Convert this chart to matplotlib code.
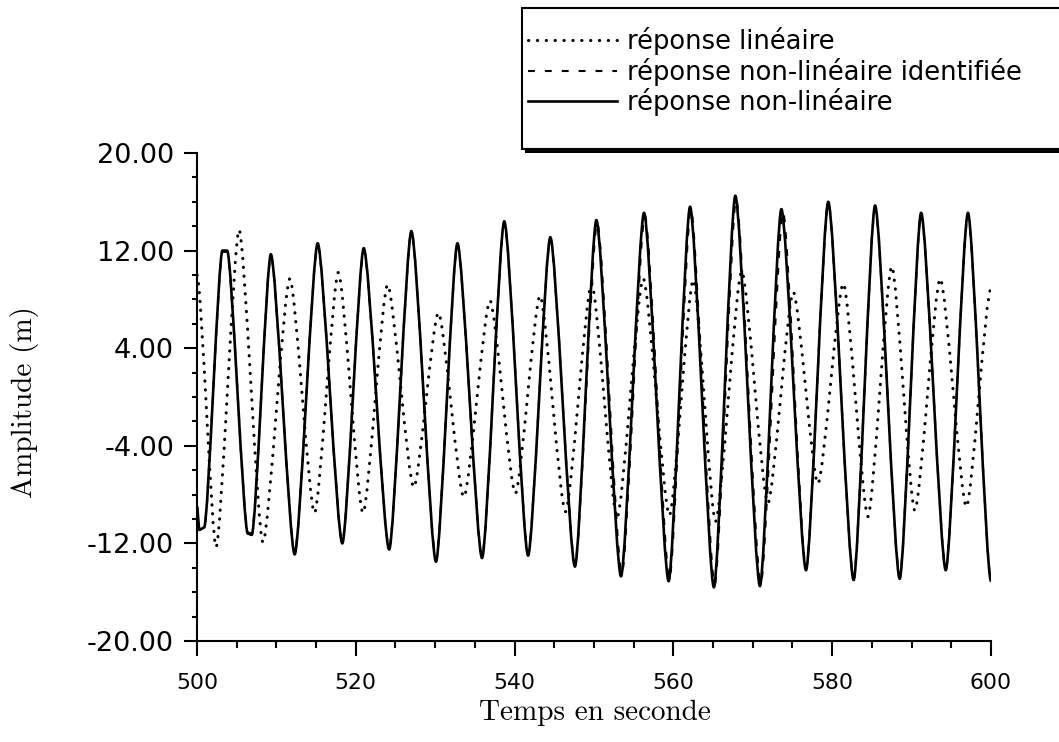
import matplotlib
matplotlib.use("Agg")
import matplotlib.pyplot as plt
from matplotlib.path import Path
from matplotlib.patches import PathPatch, Rectangle
from matplotlib.lines import Line2D
from matplotlib.ticker import MultipleLocator

# extrema (time in s, amplitude in m)
lin_t = [500.0, 502.4, 505.3, 508.3, 511.7, 514.8, 517.8, 520.9, 524.0, 527.3,
         530.4, 533.6, 536.9, 540.1, 543.2, 546.4, 549.7, 552.9, 556.2, 559.5,
         562.5, 565.3, 568.6, 571.9, 575.1, 578.2, 581.4, 584.5, 587.5, 590.4,
         593.6, 596.9, 600.0]
lin_v = [10.0, -12.3, 13.7, -11.9, 9.7, -9.5, 10.2, -9.5, 9.2, -7.4,
         6.9, -8.2, 7.9, -7.9, 8.3, -9.4, 9.3, -9.9, 9.7, -9.7,
         9.6, -10.2, 10.3, -8.7, 8.6, -7.1, 9.3, -9.8, 10.7, -9.3,
         9.7, -9.0, 8.9]

nl_t = [500.0, 500.3, 500.9, 503.2, 503.8, 506.4, 506.9, 509.3, 512.3, 515.2,
        518.3, 521.0, 524.2, 527.0, 530.1, 532.8, 535.9, 538.7, 541.7, 544.5,
        547.6, 550.3, 553.4, 556.3, 559.4, 562.1, 565.1, 567.8, 570.9, 573.6,
        576.7, 579.5, 582.7, 585.4, 588.5, 591.2, 594.3, 597.1, 600.0]
nl_v = [-9.0, -10.9, -10.7, 12.0, 12.0, -11.2, -11.3, 11.7, -12.9, 12.6,
        -12.0, 12.2, -12.5, 13.6, -13.5, 12.6, -13.2, 14.4, -13.0, 13.1,
        -13.9, 14.5, -14.7, 15.1, -15.1, 15.6, -15.6, 16.5, -15.5, 15.4,
        -14.2, 16.0, -15.0, 15.7, -14.9, 15.1, -14.2, 15.1, -15.1]

id_t = [500.0, 500.3, 500.9, 503.2, 503.8, 506.4, 506.9, 509.3, 512.3, 515.2,
        518.3, 521.0, 524.2, 527.0, 530.1, 532.8, 535.9, 538.7, 541.7, 544.5,
        547.6, 550.4, 553.5, 556.4, 559.5, 562.2, 565.2, 567.9, 571.0, 573.8,
        576.7, 579.5, 582.7, 585.4, 588.5, 591.2, 594.3, 597.1, 600.0]
id_v = [-8.9, -10.8, -10.7, 11.9, 11.9, -11.1, -11.2, 11.6, -12.8, 12.5,
        -11.9, 12.1, -12.4, 13.5, -13.4, 12.5, -13.1, 14.3, -12.9, 13.0,
        -13.8, 14.3, -14.5, 14.9, -14.9, 15.4, -15.4, 16.2, -15.3, 15.2,
        -14.1, 15.9, -14.9, 15.6, -14.8, 15.0, -14.1, 15.0, -15.0]

labels = ["réponse linéaire", "réponse non-linéaire identifiée", "réponse non-linéaire"]
y_ticks = [-20, -12, -4, 4, 12, 20]
x_ticks = [500, 520, 540, 560, 580, 600]


def smooth_path(t, v, c=0.22):
    # cubic segments with flat tangents at each read extremum
    verts = [(t[0], v[0])]
    codes = [Path.MOVETO]
    for i in range(1, len(t)):
        dt = t[i] - t[i - 1]
        verts += [(t[i - 1] + c * dt, v[i - 1]), (t[i] - c * dt, v[i]), (t[i], v[i])]
        codes += [Path.CURVE4] * 3
    return Path(verts, codes)


W, H = 1059, 742
fig = plt.figure(figsize=(W / 100, H / 100), dpi=100)
ax = fig.add_axes([197 / W, 1 - 641 / H, (991 - 197) / W, (641 - 153) / H])

dot_style = dict(color="black", lw=2.2, ls=(0, (0.1, 2.8)))
dash_style = dict(color="black", lw=1.5, ls=(0, (3.3, 4.8)))
solid_style = dict(color="black", lw=1.9, ls="-")

ax.add_patch(PathPatch(smooth_path(lin_t, lin_v), fill=False, capstyle="round", **dot_style))
ax.add_patch(PathPatch(smooth_path(nl_t, nl_v), fill=False, joinstyle="round", **solid_style))
ax.add_patch(PathPatch(smooth_path(id_t, id_v), fill=False, capstyle="butt", **dash_style))

ax.set_xlim(500, 600)
ax.set_ylim(-20, 20)
ax.set_yticks(y_ticks, [f"{v:.2f}" for v in y_ticks])
ax.set_xticks(x_ticks, [str(v) for v in x_ticks])
ax.yaxis.set_minor_locator(MultipleLocator(2))
ax.xaxis.set_minor_locator(MultipleLocator(5))
ax.tick_params(axis="y", which="major", length=9.5, width=1.5, pad=7, labelsize=19.5)
ax.tick_params(axis="y", which="minor", length=3.8, width=1.5)
ax.tick_params(axis="x", which="major", length=11, width=1.5, pad=12, labelsize=15.8)
ax.tick_params(axis="x", which="minor", length=5, width=1.5)
for side in ["top", "right"]:
    ax.spines[side].set_visible(False)
for side in ["left", "bottom"]:
    ax.spines[side].set_linewidth(1.5)

fig.text(25 / W, 1 - 402 / H, "Amplitude (m)", rotation=90, ha="center", va="center",
         family="cmr10", fontsize=21)
fig.text(595 / W, 1 - 713 / H, "Temps en seconde", ha="center", va="center",
         family="cmr10", fontsize=21)

# legend box with drop shadow, running off the right edge
fig.patches.append(Rectangle((525 / W, 1 - 153 / H), 600 / W, 144 / H,
                             transform=fig.transFigure, facecolor="black", edgecolor="none"))
fig.patches.append(Rectangle((522 / W, 1 - 149 / H), 600 / W, 141 / H,
                             transform=fig.transFigure, facecolor="white", edgecolor="black",
                             lw=1.5))
handles = [Line2D([], [], dash_capstyle="round", **dot_style),
           Line2D([], [], **dash_style),
           Line2D([], [], **solid_style)]
fig.legend(handles, labels, loc="upper left", bbox_to_anchor=(528 / W, 1 - 27 / H),
           frameon=False, fontsize=18.5, handlelength=3.45, handletextpad=0.4,
           labelspacing=0.1, borderpad=0, borderaxespad=0)

fig.savefig("out.png", dpi=100)
